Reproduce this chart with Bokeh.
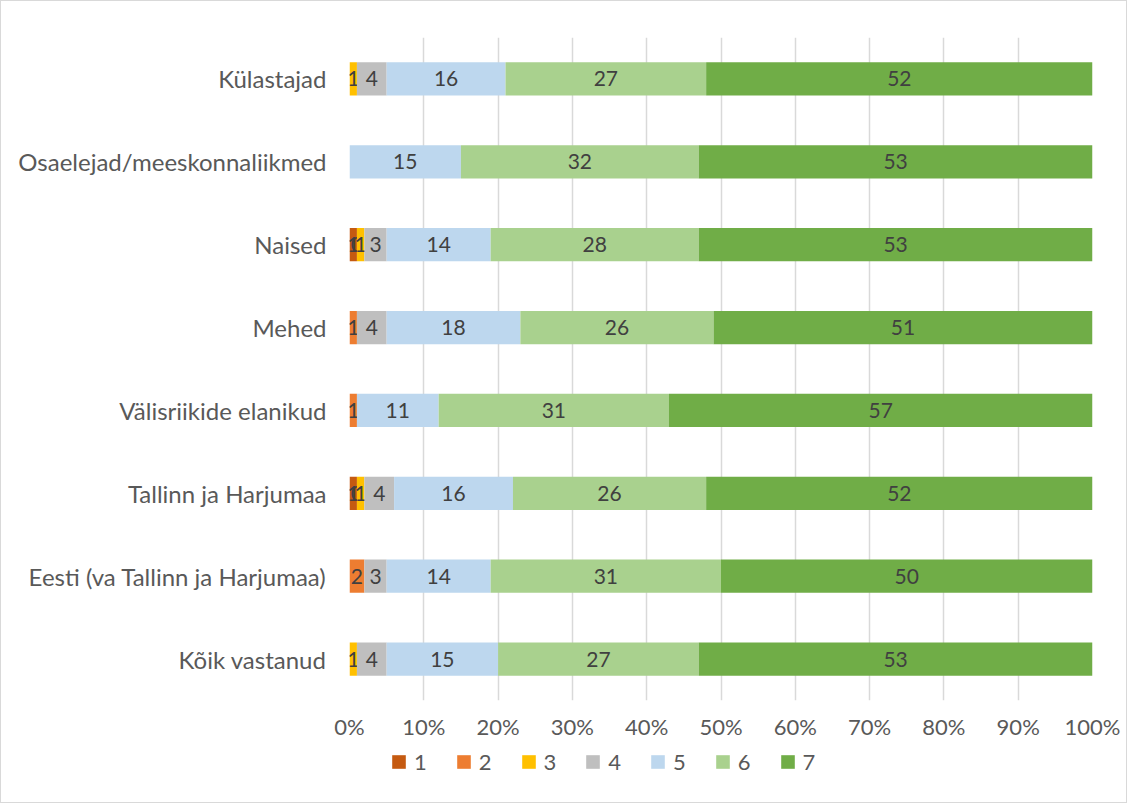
import numpy as np
from bokeh.plotting import figure
from bokeh.layouts import column
from bokeh.models import ColumnDataSource, FixedTicker, Legend, LegendItem, Range1d, FactorRange
from bokeh.core.properties import value
from bokeh.embed import file_html
from bokeh.resources import INLINE

categories = ["Kõik vastanud", "Eesti (va Tallinn ja Harjumaa)", "Tallinn ja Harjumaa",
              "Välisriikide elanikud", "Mehed", "Naised", "Osaelejad/meeskonnaliikmed", "Külastajad"]
series_names = ["1", "2", "3", "4", "5", "6", "7"]
nan = float("nan")
s1 = [nan, nan, 1, nan, nan, 1, nan, nan]
s2 = [nan, 2, 0, 1, 1, 0, nan, nan]
s3 = [1, nan, 1, nan, nan, 1, nan, 1]
s4 = [4, 3, 4, nan, 4, 3, nan, 4]
s5 = [15, 14, 16, 11, 18, 14, 15, 16]
s6 = [27, 31, 26, 31, 26, 28, 32, 27]
s7 = [53, 50, 52, 57, 51, 53, 53, 52]
colors = ["#C55A11", "#ED7D31", "#FFC000", "#BFBFBF", "#BDD7EE", "#A9D18E", "#70AD47"]
x_ticks = [0, 10, 20, 30, 40, 50, 60, 70, 80, 90, 100]
x_tick_labels = ["0%", "10%", "20%", "30%", "40%", "50%", "60%", "70%", "80%", "90%", "100%"]

FONT = "Lato"
TEXT = "#595959"

p = figure(y_range=FactorRange(*categories, range_padding=0), x_range=Range1d(0, 100),
           frame_width=743, frame_height=663,
           min_border_left=348, min_border_right=34, min_border_top=36, min_border_bottom=44,
           output_backend="svg", toolbar_location=None)
p.outline_line_color = None
p.background_fill_color = "white"
p.ygrid.grid_line_color = None
p.xgrid.grid_line_color = "#d9d9d9"
p.xgrid.grid_line_width = 1.5
p.xaxis.ticker = FixedTicker(ticks=x_ticks)
p.xaxis.major_label_overrides = {t: l for t, l in zip(x_ticks, x_tick_labels)}
for ax in (p.xaxis, p.yaxis):
    ax.axis_line_color = None
    ax.major_tick_line_color = None
    ax.minor_tick_line_color = None
    ax.major_label_text_font = FONT
    ax.major_label_text_color = TEXT
p.xaxis.major_label_text_font_size = "22px"
p.xaxis.major_label_standoff = 6
p.yaxis.major_label_text_font_size = "24px"
p.yaxis.major_label_standoff = 17

# legend figure (legend swatches use zero-size renderers)
lp = figure(frame_width=1125, frame_height=58, min_border=0, x_range=Range1d(0, 1),
            y_range=Range1d(0, 1), x_axis_type=None, y_axis_type=None,
            output_backend="svg", toolbar_location=None)
lp.outline_line_color = None
lp.xgrid.grid_line_color = None
lp.ygrid.grid_line_color = None

series = [s1, s2, s3, s4, s5, s6, s7]
left = np.zeros(len(categories))
items = []
for name, vals, col in zip(series_names, series, colors):
    v = np.array(vals, dtype=float)
    w = np.nan_to_num(v)
    right = left + w
    src = ColumnDataSource(dict(y=categories, left=left.copy(), right=right.copy()))
    p.hbar(y="y", left="left", right="right", height=0.4, fill_color=col,
           line_color=None, source=src)
    lr = lp.hbar(y=[0.5], left=[0], right=[0], height=0, fill_color=col, line_color=None)
    items.append(LegendItem(label=name, renderers=[lr]))
    mask = ~np.isnan(v)
    lab = ColumnDataSource(dict(
        x=((left + right) / 2)[mask],
        y=[c for c, m in zip(categories, mask) if m],
        t=[str(int(a)) for a in v[mask]]))
    p.text(x="x", y="y", text="t", source=lab, text_align="center", text_baseline="middle",
           text_font=value(FONT), text_font_size="21px", text_color="#404040")
    left = right

legend = Legend(items=items, orientation="horizontal", location=(389, 27),
                glyph_width=17, glyph_height=17, label_standoff=7, spacing=28,
                padding=0, margin=0, border_line_color=None, background_fill_alpha=0,
                label_text_font=FONT, label_text_font_size="22px", label_text_color=TEXT,
                label_width=12)
lp.add_layout(legend, "center")

layout = column(p, lp, spacing=0)
layout.styles = {"border": "1px solid #d9d9d9"}

open("out.html", "w").write(file_html(layout, INLINE))
